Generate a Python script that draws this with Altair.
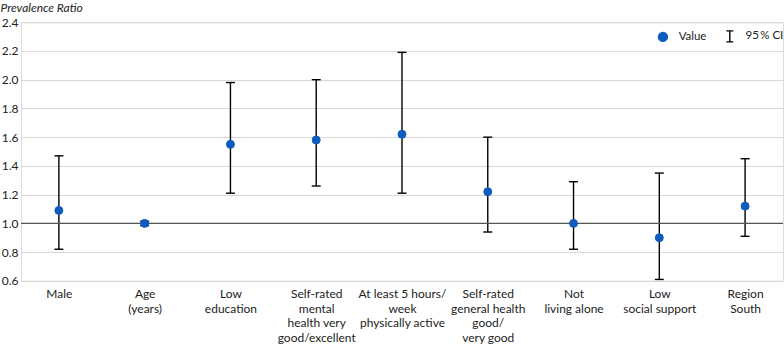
import altair as alt
import pandas as pd

categories = [
    "Male",
    "Age|(years)",
    "Low|education",
    "Self-rated|mental|health very|good/excellent",
    "At least 5 hours/|week|physically active",
    "Self-rated|general health|good/|very good",
    "Not|living alone",
    "Low|social support",
    "Region|South",
]
values = [1.09, 1.00, 1.55, 1.58, 1.62, 1.22, 1.00, 0.90, 1.12]
ci_low = [0.82, 0.985, 1.21, 1.26, 1.21, 0.94, 0.82, 0.61, 0.91]
ci_high = [1.47, 1.015, 1.98, 2.00, 2.19, 1.60, 1.29, 1.35, 1.45]
y_ticks = [0.6, 0.8, 1.0, 1.2, 1.4, 1.6, 1.8, 2.0, 2.2, 2.4]
reference_value = [1.0]
legend_labels = ["Value", "95\u2009% CI"]

df = pd.DataFrame({
    "cat": categories,
    "value": values,
    "lo": ci_low,
    "hi": ci_high,
    "series": [legend_labels[0]] * len(categories),
})
ref_df = pd.DataFrame({"ref": reference_value})

FONT = "Lato"
TXT = "#222222"
BLUE = "#0f5cbf"
IBAR = "M-0.78,-1.22H0.78M0,-1.22V1.22M-0.78,1.22H0.78"

x_enc = alt.X(
    "cat:N",
    sort=categories,
    scale=alt.Scale(type="point", padding=0.442),
    axis=alt.Axis(
        title=None,
        labelAngle=0,
        labelExpr="split(datum.label, '|')",
        labelFont=FONT,
        labelFontSize=12,
        labelColor=TXT,
        labelLineHeight=14.5,
        labelPadding=8,
        labelLimit=300,
        domain=False,
        ticks=False,
        tickSize=0,
        grid=False,
    ),
)

y_scale = alt.Scale(domain=[0.6, 2.4], nice=False, zero=False)
y_axis = alt.Axis(
    title="Prevalence Ratio",
    titleAngle=0,
    titleAlign="left",
    titleBaseline="alphabetic",
    titleX=-21,
    titleY=-11,
    titleFont=FONT,
    titleFontSize=12,
    titleFontStyle="italic",
    titleFontWeight="normal",
    titleColor=TXT,
    values=y_ticks,
    tickCount=len(y_ticks),
    format=".1f",
    labelFont=FONT,
    labelFontSize=12,
    labelColor=TXT,
    labelPadding=3,
    labelOverlap=False,
    domain=False,
    ticks=False,
    tickSize=0,
    grid=True,
    gridColor="#d6d6d6",
    gridWidth=1,
)

base = alt.Chart(df)

bars = base.mark_rule(color="black", strokeWidth=1.4).encode(
    x=x_enc,
    y=alt.Y("lo:Q", scale=y_scale, axis=y_axis),
    y2="hi:Q",
)

cap_lo = base.mark_tick(color="black", size=9, thickness=1.4, opacity=1).encode(
    x=alt.X("cat:N", sort=categories),
    y=alt.Y("lo:Q"),
)
cap_hi = base.mark_tick(color="black", size=9, thickness=1.4, opacity=1).encode(
    x=alt.X("cat:N", sort=categories),
    y=alt.Y("hi:Q"),
)

ref_line = alt.Chart(ref_df).mark_rule(color="#555555", strokeWidth=1.3).encode(
    y=alt.Y("ref:Q")
)

legend = alt.Legend(
    title=None,
    orient="none",
    legendX=637,
    legendY=8,
    direction="horizontal",
    labelFont=FONT,
    labelFontSize=11.5,
    labelColor=TXT,
    symbolSize=81,
    symbolStrokeWidth=1.4,
    labelOffset=10,
    columnPadding=16,
)

points = base.mark_point(filled=True, size=64, strokeWidth=1, opacity=1).encode(
    x=alt.X("cat:N", sort=categories),
    y=alt.Y("value:Q"),
    fill=alt.Fill("series:N", scale=alt.Scale(domain=legend_labels, range=[BLUE, "transparent"]), legend=legend),
    stroke=alt.Stroke("series:N", scale=alt.Scale(domain=legend_labels, range=[BLUE, "black"]), legend=legend),
    shape=alt.Shape("series:N", scale=alt.Scale(domain=legend_labels, range=["circle", IBAR]), legend=legend),
)

chart = alt.layer(bars, ref_line, cap_lo, cap_hi, points).properties(
    width=763,
    height=259,
    padding={"left": 0, "top": 1, "right": 0, "bottom": 0},
).configure_view(stroke=None).configure(background="white")

chart.save("out.html", embed_options={"renderer": "svg", "actions": False})
